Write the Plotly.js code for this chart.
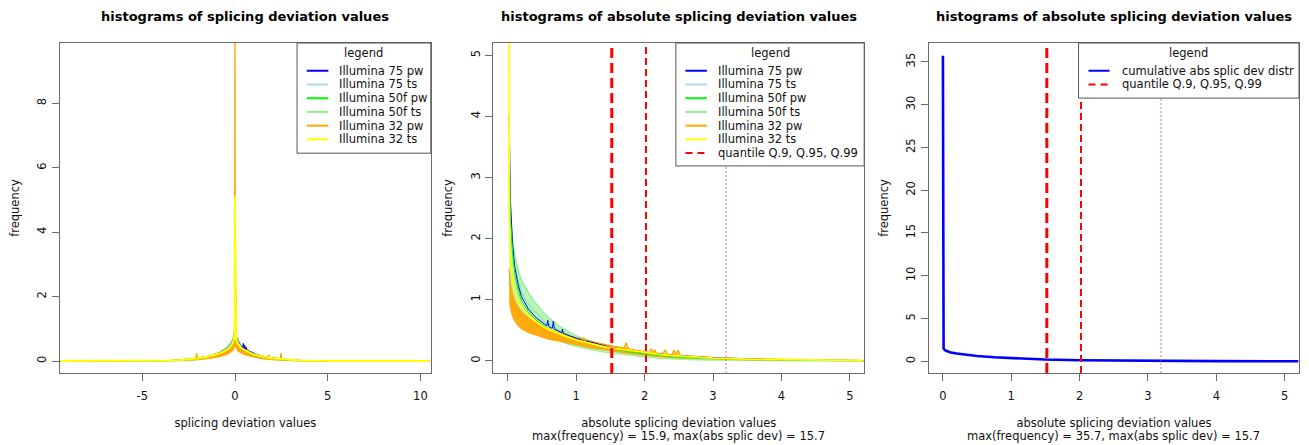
<!DOCTYPE html>
<html>
<head>
<meta charset="utf-8">
<script src="https://cdn.plot.ly/plotly-3.0.1.min.js"></script>
<style>html,body{margin:0;padding:0;background:#fff;}#chart{width:1309px;height:445px;}</style>
</head>
<body>
<div id="chart"></div>
<script>
// ---------------- data ----------------
const seriesNames = ["Illumina 75 pw", "Illumina 75 ts", "Illumina 50f pw", "Illumina 50f ts", "Illumina 32 pw", "Illumina 32 ts"];
const seriesColors = ["#0000FF", "#ADD8E6", "#00FF00", "#90EE90", "#FFA500", "#FFFF00"];
const quantileLabel = "quantile Q.9, Q.95, Q.99";
const cumulativeLabel = "cumulative abs splic dev distr";
const quantiles = [1.52, 2.02, 3.19];

// panel 1: signed splicing deviation values
const sdX = [-9.4,-6,-5,-4.5,-4,-3.5,-3,-2.5,-2,-1.5,-1.2,-1,-0.8,-0.6,-0.45,-0.3,-0.2,-0.12,-0.06,-0.02,0,0.02,0.06,0.12,0.2,0.3,0.45,0.6,0.8,1,1.2,1.5,2,2.5,3,3.5,4,4.5,5,6,10.5];
const sdBlue = [0,0,0.001,0.003,0.008,0.018,0.036,0.06,0.095,0.145,0.19,0.22,0.27,0.33,0.38,0.45,0.53,0.62,0.75,0.92, 3.5, 0.95,0.78,0.65,0.55,0.47,0.4,0.35,0.29,0.24,0.2,0.15,0.1,0.06,0.035,0.018,0.008,0.003,0.001,0,0];
const sdLightBlue = [0,0,0.001,0.003,0.006,0.013,0.028,0.05,0.085,0.13,0.18,0.22,0.28,0.35,0.41,0.5,0.58,0.67,0.8,0.98, 3.8, 1.0,0.82,0.7,0.6,0.51,0.42,0.36,0.29,0.23,0.19,0.135,0.085,0.05,0.028,0.014,0.006,0.003,0.001,0,0];
const sdGreen = [0,0,0.001,0.003,0.007,0.016,0.033,0.056,0.09,0.14,0.18,0.21,0.26,0.31,0.36,0.43,0.5,0.58,0.7,0.86, 4.0, 0.88,0.72,0.6,0.52,0.45,0.38,0.33,0.27,0.22,0.18,0.14,0.09,0.055,0.032,0.016,0.007,0.003,0.001,0,0];
const sdLightGreenHi = [0,0,0.001,0.003,0.006,0.014,0.03,0.055,0.09,0.14,0.19,0.23,0.29,0.36,0.43,0.52,0.61,0.7,0.84,1.02, 4.3, 1.05,0.85,0.72,0.62,0.53,0.44,0.37,0.3,0.24,0.2,0.14,0.09,0.055,0.03,0.015,0.007,0.003,0.001,0,0];
const sdLightGreenLo = [-0.01,-0.01,-0.008,-0.005,0,0.003,0.008,0.017,0.034,0.068,0.095,0.125,0.165,0.2,0.24,0.29,0.35,0.4,0.46,0.54, 0.6, 0.55,0.47,0.41,0.36,0.3,0.25,0.21,0.17,0.13,0.1,0.07,0.035,0.018,0.008,0.003,0,-0.005,-0.008,-0.01,-0.01];
const sdOrangeHi = [0,0,0.001,0.003,0.006,0.014,0.028,0.045,0.07,0.11,0.15,0.18,0.22,0.26,0.3,0.36,0.41,0.46,0.53,0.6, 12, 0.62,0.54,0.47,0.42,0.37,0.31,0.27,0.23,0.19,0.16,0.12,0.08,0.05,0.03,0.015,0.007,0.003,0.001,0,0];
const sdOrangeLo = [0,0,0,0.001,0.002,0.005,0.011,0.022,0.038,0.065,0.09,0.11,0.14,0.17,0.2,0.24,0.28,0.32,0.37,0.44, 0.5, 0.45,0.38,0.33,0.29,0.25,0.21,0.18,0.15,0.12,0.1,0.07,0.04,0.025,0.012,0.006,0.002,0.001,0,0,0];
const sdYellow = [0,0,0.001,0.003,0.008,0.017,0.034,0.058,0.088,0.135,0.175,0.2,0.25,0.3,0.35,0.42,0.49,0.57,0.68,0.88, 5.1, 0.9,0.7,0.58,0.5,0.43,0.36,0.31,0.26,0.21,0.18,0.14,0.09,0.06,0.035,0.018,0.008,0.003,0.001,0,0];
const sdOrangePeakX = [-2.53,-2.5,-2.47,-2.47,-2.1,-2.07,-2.04,-2.04,-1.65,-1.62,-1.59,-1.59,-1.38,-1.35,-1.32,-1.32,1.32,1.35,1.38,1.38,1.79,1.82,1.85,1.85,2.13,2.16,2.19,2.19,2.45,2.48,2.51,2.51,2.85,2.88,2.91];
const sdOrangePeakY = [0.04,0.1,0.04,null,0.07,0.24,0.07,null,0.1,0.15,0.1,null,0.13,0.17,0.13,null,0.12,0.15,0.12,null,0.07,0.2,0.07,null,0.05,0.13,0.05,null,0.04,0.25,0.04,null,0.02,0.07,0.02];
const sdBluePeakX = [0.4,0.45,0.48,0.52,0.56,0.6,0.65,0.75,0.85,1.0,1.1];
const sdBluePeakY = [0.38,0.55,0.4,0.5,0.37,0.44,0.32,0.3,0.27,0.25,0.2];

// panel 2: absolute splicing deviation values
const absX = [0.02,0.04,0.07,0.1,0.15,0.2,0.3,0.4,0.5,0.6,0.75,0.9,1.0,1.2,1.4,1.5,1.75,2.0,2.25,2.5,2.75,3.0,3.5,4.0,4.5,5.0,5.2];
const absLightBlue = [3.2,2.3,1.8,1.55,1.3,1.12,0.93,0.8,0.68,0.59,0.5,0.42,0.37,0.3,0.24,0.21,0.16,0.12,0.09,0.065,0.048,0.035,0.02,0.011,0.005,0.002,0.001];
const absLightGreenHi = [3.0,2.4,2.0,1.75,1.5,1.32,1.12,0.95,0.82,0.7,0.57,0.47,0.41,0.33,0.26,0.23,0.17,0.13,0.1,0.075,0.055,0.04,0.025,0.015,0.008,0.004,0.003];
const absLightGreenLo = [1.3,1.15,1.0,0.9,0.8,0.72,0.6,0.52,0.45,0.39,0.32,0.26,0.23,0.18,0.14,0.125,0.09,0.06,0.035,0.02,0.012,0.008,0.004,0.001,0.0,-0.004,-0.005];
const absOrangeHi = [1.5,1.25,1.08,0.98,0.88,0.8,0.7,0.62,0.56,0.51,0.46,0.4,0.37,0.32,0.27,0.25,0.2,0.15,0.115,0.09,0.07,0.05,0.03,0.018,0.01,0.005,0.004];
const absOrangeLo = [1.0,0.85,0.72,0.65,0.57,0.52,0.46,0.42,0.38,0.35,0.32,0.28,0.26,0.21,0.18,0.16,0.12,0.09,0.06,0.045,0.035,0.025,0.014,0.007,0.003,0.001,0.0];
const absGreen = [3.5,2.3,1.75,1.45,1.15,0.98,0.8,0.68,0.59,0.52,0.45,0.38,0.34,0.28,0.23,0.2,0.15,0.11,0.08,0.06,0.045,0.033,0.02,0.01,0.005,0.002,0.001];
const absBlueX = [0.02,0.04,0.07,0.1,0.15,0.2,0.3,0.4,0.5,0.57,0.585,0.6,0.65,0.667,0.68,0.75,0.79,0.8,0.81,0.9,1.0,1.2,1.4,1.5,1.75,2.0,2.5,3.0,4.0,5.0,5.2];
const absBlue = [4.0,2.6,1.9,1.55,1.25,1.05,0.85,0.72,0.63,0.57,0.66,0.56,0.53,0.65,0.52,0.48,0.46,0.52,0.45,0.41,0.37,0.31,0.25,0.22,0.17,0.13,0.085,0.05,0.018,0.005,0.004];
const absYellowX = [0.018,0.022,0.04,0.07,0.1,0.15,0.2,0.3,0.4,0.5,0.6,0.75,0.9,1.0,1.2,1.4,1.5,1.75,2.0,2.25,2.5,2.75,3.0,3.5,4.0,4.5,5.0,5.2];
const absYellow = [15.9,2.4,1.7,1.35,1.15,0.98,0.88,0.75,0.65,0.57,0.51,0.44,0.38,0.34,0.28,0.23,0.21,0.17,0.13,0.1,0.08,0.06,0.045,0.028,0.017,0.01,0.005,0.004];
const absOrangePeakX = [1.08,1.11,1.14,1.14,1.7,1.73,1.76,1.76,2.07,2.1,2.12,2.12,2.13,2.15,2.17,2.17,2.27,2.3,2.33,2.33,2.4,2.43,2.45,2.45,2.46,2.49,2.52];
const absOrangePeakY = [0.33,0.37,0.31,null,0.2,0.29,0.19,null,0.15,0.19,0.14,null,0.14,0.17,0.13,null,0.12,0.17,0.11,null,0.1,0.17,0.1,null,0.1,0.17,0.09];

// panel 3: cumulative absolute splicing deviation distribution
const cumX = [0,0.001,0.01,0.03,0.06,0.1,0.2,0.3,0.5,0.75,1,1.25,1.5,2,2.5,3,4,5,5.2];
const cumY = [35.7,2.0,1.5,1.3,1.15,1.05,0.9,0.8,0.62,0.47,0.35,0.27,0.2,0.12,0.08,0.05,0.02,0.008,0.006];

// tick labels
const ticks1X = [-5, 0, 5, 10];
const ticks1XText = ["-5", "0", "5", "10"];
const ticks1Y = [0, 2, 4, 6, 8];
const ticks2X = [0, 1, 2, 3, 4, 5];
const ticks2Y = [0, 1, 2, 3, 4, 5];
const ticks3Y = [0, 5, 10, 15, 20, 25, 30, 35];

const titles = ["histograms of splicing deviation values", "histograms of absolute splicing deviation values", "histograms of absolute splicing deviation values"];
const xTitles = ["splicing deviation values", "absolute splicing deviation values", "absolute splicing deviation values"];
const subTitles = ["", "max(frequency) = 15.9, max(abs splic dev) = 15.7", "max(frequency) = 35.7, max(abs splic dev) = 15.7"];

// ---------------- layout helpers ----------------
const W = 1309, H = 445;
const ML = 60, MR = 10.3, MT = 43.3, MB = 72.3;
const PW = W - ML - MR, PH = H - MT - MB;
const fx = p => (p - ML) / PW;
const fy = p => 1 - (p - MT) / PH;
const FONT = "DejaVu Sans, Liberation Sans, sans-serif";
const TXT = "#111";
const AX = "#6a6a6a";

const traces = [];
function line(xs, ys, color, width, ax, extra) {
  traces.push(Object.assign({type: "scatter", mode: "lines", x: xs, y: ys, xaxis: "x" + ax, yaxis: "y" + ax,
    line: {color: color, width: width}, showlegend: false, hoverinfo: "skip"}, extra || {}));
}
function band(xs, lo, hi, color, fillcolor, ax) {
  line(xs, lo, color, 0.8, ax);
  line(xs, hi, color, 1.2, ax, {fill: "tonexty", fillcolor: fillcolor});
}

// panel 1 (axis suffix "")
line(sdX, sdLightBlue, seriesColors[1], 1.5, "");
band(sdX, sdLightGreenLo, sdLightGreenHi, seriesColors[3], "rgba(144,238,144,0.7)", "");
line(sdX, sdBlue, seriesColors[0], 1, "");
line(sdBluePeakX, sdBluePeakY, seriesColors[0], 1, "");
line(sdX, sdGreen, seriesColors[2], 1, "");
band(sdX, sdOrangeLo, sdOrangeHi, seriesColors[4], "rgba(255,165,0,0.95)", "");
line(sdOrangePeakX, sdOrangePeakY, seriesColors[4], 1.5, "");
line(sdX, sdYellow, seriesColors[5], 2, "");

// panel 2
line(absX, absLightBlue, seriesColors[1], 1.5, "2");
band(absX, absLightGreenLo, absLightGreenHi, seriesColors[3], "rgba(144,238,144,0.65)", "2");
band(absX, absOrangeLo, absOrangeHi, seriesColors[4], "rgba(255,165,0,0.95)", "2");
line(absBlueX, absBlue, seriesColors[0], 1, "2");
line(absX, absGreen, seriesColors[2], 1, "2");
line(absOrangePeakX, absOrangePeakY, seriesColors[4], 1.5, "2");
line(absYellowX, absYellow, seriesColors[5], 1.8, "2");

// panel 3
line(cumX, cumY, "#0000FF", 2.6, "3");

// ---------------- axes ----------------
const pX = [[60, 430.7], [493.3, 864], [928.7, 1298.7]];
function axisBase() {
  return {showline: true, mirror: true, linecolor: AX, linewidth: 1, ticks: "outside", ticklen: 7, tickcolor: AX,
    tickwidth: 1, showgrid: false, zeroline: false, tickfont: {family: FONT, size: 11.5, color: TXT}, fixedrange: true};
}
function xAxis(i, range, tv, tt, title) {
  return Object.assign(axisBase(), {domain: [fx(pX[i][0]), Math.min(1, fx(pX[i][1]))], range: range,
    tickmode: "array", tickvals: tv, ticktext: tt,
    anchor: i === 0 ? "y" : "y" + (i + 1), ticklabelstandoff: 5,
    title: {text: title, font: {family: FONT, size: 11.5, color: TXT}, standoff: 17}});
}
function yAxis(i, range, tv) {
  return Object.assign(axisBase(), {domain: [0, 1], range: range, tickvals: tv, tickangle: -90,
    anchor: i === 0 ? "x" : "x" + (i + 1), ticklabelstandoff: 1,
    title: {text: "frequency", font: {family: FONT, size: 11.5, color: TXT}, standoff: 13}});
}

const shapes = [];
const annotations = [];

// quantile lines in panels 2 and 3
const qStyles = [
  {color: "#FF0000", width: 3, dash: "10px,5px"},
  {color: "#FF0000", width: 2, dash: "7px,4px"},
  {color: "rgba(255,80,80,0.55)", width: 1.5, dash: "2px,2px"}
];
["2", "3"].forEach(ax => {
  quantiles.forEach((q, k) => {
    shapes.push({type: "line", xref: "x" + ax, yref: "y" + ax + " domain", x0: q, x1: q, y0: 0, y1: 1,
      line: qStyles[k], layer: "above"});
  });
});

// titles
titles.forEach((t, i) => {
  annotations.push({xref: "paper", yref: "paper", x: fx((pX[i][0] + pX[i][1]) / 2), y: fy(17),
    xanchor: "center", yanchor: "middle", showarrow: false, text: "<b>" + t + "</b>",
    font: {family: FONT, size: 13, color: "#000"}});
});
subTitles.forEach((t, i) => {
  if (!t) return;
  annotations.push({xref: "paper", yref: "paper", x: fx((pX[i][0] + pX[i][1]) / 2), y: fy(435.7),
    xanchor: "center", yanchor: "middle", showarrow: false, text: t,
    font: {family: FONT, size: 11.5, color: TXT}});
});

// manual legends (R style)
const rowY = [71, 84.7, 98.4, 112.1, 125.8, 139.5, 153.2];
function legendBox(left, right, bottom, sampleL, sampleR, textL, items) {
  shapes.push({type: "rect", xref: "paper", yref: "paper", x0: fx(left), x1: fx(right), y0: fy(bottom), y1: fy(MT),
    fillcolor: "#FFFFFF", line: {color: "#555", width: 1}, layer: "above"});
  annotations.push({xref: "paper", yref: "paper", x: fx((left + right) / 2), y: fy(53), xanchor: "center", yanchor: "middle",
    showarrow: false, text: "legend", font: {family: FONT, size: 11.5, color: TXT}});
  items.forEach((it, k) => {
    shapes.push({type: "line", xref: "paper", yref: "paper", x0: fx(sampleL), x1: fx(sampleR), y0: fy(rowY[k]), y1: fy(rowY[k]),
      line: {color: it.color, width: 2, dash: it.dash || "solid"}, layer: "above"});
    annotations.push({xref: "paper", yref: "paper", x: fx(textL), y: fy(rowY[k]), xanchor: "left", yanchor: "middle",
      showarrow: false, text: it.label, font: {family: FONT, size: 11.5, color: TXT}});
  });
}
const seriesItems = seriesNames.map((n, k) => ({label: n, color: seriesColors[k]}));
legendBox(297, 430.7, 153.3, 306.7, 328.3, 337.3, seriesItems);
legendBox(675.7, 864, 166, 685.3, 706.7, 716, seriesItems.concat([{label: quantileLabel, color: "#FF0000", dash: "7px,5px"}]));
legendBox(1078.3, 1298.7, 98.3, 1088.3, 1109.3, 1119.3, [{label: cumulativeLabel, color: "#0000FF"}, {label: quantileLabel, color: "#FF0000", dash: "7px,5px"}]);

const layout = {
  width: W, height: H,
  margin: {l: ML, r: MR, t: MT, b: MB, pad: 0},
  paper_bgcolor: "#FFFFFF", plot_bgcolor: "#FFFFFF",
  showlegend: false,
  font: {family: FONT, size: 11.5, color: TXT},
  xaxis: xAxis(0, [-9.44, 10.56], ticks1X, ticks1XText, xTitles[0]),
  yaxis: yAxis(0, [-0.37, 9.87], ticks1Y),
  xaxis2: xAxis(1, [-0.21, 5.21], ticks2X, ticks2X.map(String), xTitles[1]),
  yaxis2: yAxis(1, [-0.2, 5.2], ticks2Y),
  xaxis3: xAxis(2, [-0.205, 5.21], ticks2X, ticks2X.map(String), xTitles[2]),
  yaxis3: yAxis(2, [-1.37, 37.2], ticks3Y),
  shapes: shapes,
  annotations: annotations
};

Plotly.newPlot("chart", traces, layout, {displayModeBar: false, staticPlot: true});
</script>
</body>
</html>
